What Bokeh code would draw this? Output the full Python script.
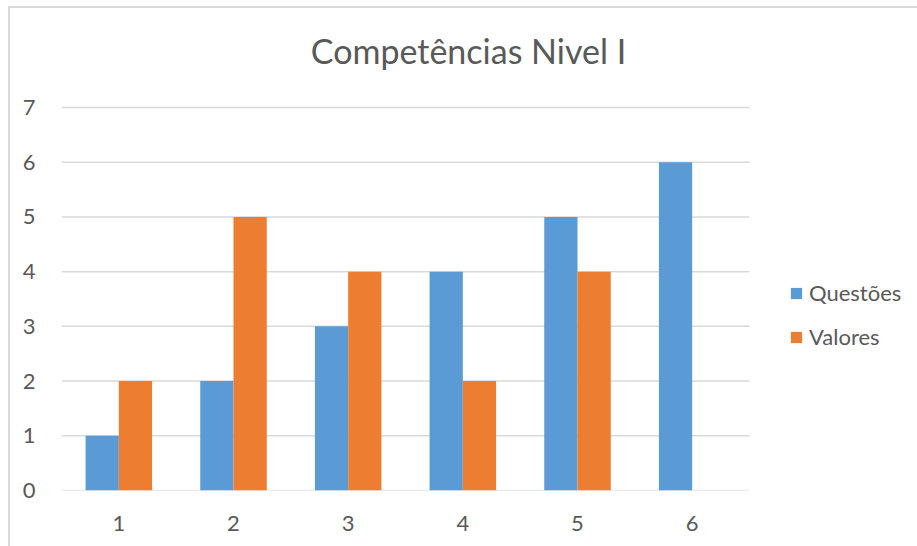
from bokeh.plotting import figure
from bokeh.models import Range1d, FixedTicker, Legend, LegendItem, ColumnDataSource, Label
from bokeh.transform import dodge
from bokeh.embed import file_html
from bokeh.resources import INLINE

categories = [1, 2, 3, 4, 5, 6]
questoes = [1, 2, 3, 4, 5, 6]
valores = [2, 5, 4, 2, 4, 0]
y_ticks = [0, 1, 2, 3, 4, 5, 6, 7]
title_text = "Competências Nivel I"
series_names = ["Questões", "Valores"]

FONT = "Lato"
TXT = "#595959"
GRID = "#d9d9d9"
BLUE = "#5B9BD5"
ORANGE = "#ED7D31"

# layout: plot area 688 x 383 px for 6 categories x 7 units; frame extended to hold title & legend
px_per_x = 688 / 6
px_per_y = 383 / 7
FW, FH = 856, 482
x_lo, x_hi = 0.5, 6.5

src = ColumnDataSource(dict(x=categories, q=questoes, v=valores))
grid_src = ColumnDataSource(dict(y=y_ticks, x0=[x_lo] * len(y_ticks), x1=[x_hi] * len(y_ticks)))

p = figure(frame_width=FW, frame_height=FH, output_backend="svg", toolbar_location=None,
           x_range=Range1d(x_lo, x_lo + FW / px_per_x), y_range=Range1d(0, FH / px_per_y),
           min_border_left=51, min_border_right=0, min_border_top=0, min_border_bottom=56)
p.outline_line_color = None
p.background_fill_color = "white"
p.border_fill_color = "white"
p.styles = {"border-top": "2px solid #d9d9d9", "border-left": "2px solid #d9d9d9",
            "margin-top": "6px", "margin-left": "8px"}

p.segment(x0="x0", x1="x1", y0="y", y1="y", source=grid_src, line_color=GRID, line_width=1.5)

bw = 0.29
rq = p.vbar(x=dodge("x", -bw / 2), top="q", width=bw, source=src, fill_color=BLUE, line_color=None)
rv = p.vbar(x=dodge("x", bw / 2), top="v", width=bw, source=src, fill_color=ORANGE, line_color=None)

p.xaxis.ticker = FixedTicker(ticks=categories)
p.yaxis.ticker = FixedTicker(ticks=y_ticks)
for ax in (p.xaxis, p.yaxis):
    ax.axis_line_color = None
    ax.major_tick_line_color = None
    ax.minor_tick_line_color = None
    ax.major_label_text_font = FONT
    ax.major_label_text_font_size = "22px"
    ax.major_label_text_color = TXT
p.xaxis.major_label_standoff = 19
p.yaxis.major_label_standoff = 20

p.xgrid.grid_line_color = None
p.ygrid.grid_line_color = None

p.add_layout(Label(x=x_lo + (468 - 61) / px_per_x, y=8.04, text=title_text,
                   text_align="center", text_baseline="alphabetic",
                   text_font=FONT, text_font_size="34px", text_color=TXT))

legend = Legend(items=[LegendItem(label=series_names[0], renderers=[rq]),
                       LegendItem(label=series_names[1], renderers=[rv])],
                location=(728, 140), orientation="vertical",
                glyph_width=14, glyph_height=14, label_standoff=6,
                label_height=20, spacing=17, padding=10, margin=0,
                border_line_color=None, background_fill_alpha=0,
                label_text_font=FONT, label_text_font_size="22px", label_text_color=TXT)
p.add_layout(legend, "center")

open("out.html", "w").write(file_html(p, INLINE))
